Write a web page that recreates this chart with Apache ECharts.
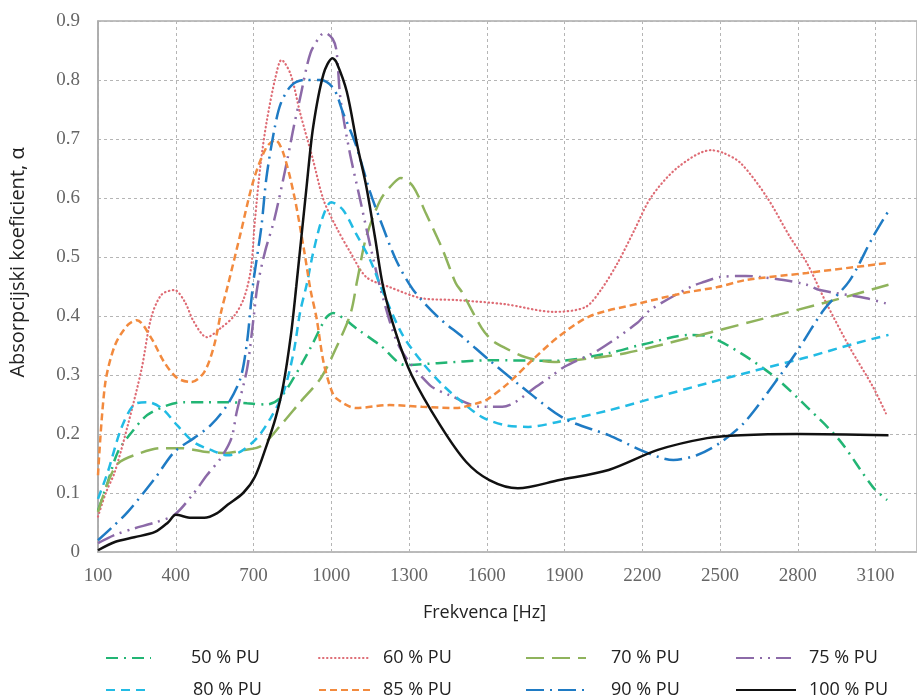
<!DOCTYPE html>
<html><head><meta charset="utf-8">
<script src="https://cdn.jsdelivr.net/npm/echarts@6/dist/echarts.min.js"></script>
<style>html,body{margin:0;padding:0;background:#fff}#c{width:917px;height:700px}</style>
</head><body><div id="c"></div>
<script>
const seriesNames = ['50 % PU','60 % PU','70 % PU','75 % PU','80 % PU','85 % PU','90 % PU','100 % PU'];
const xTicks = [100,400,700,1000,1300,1600,1900,2200,2500,2800,3100];
const yTicks = [0,0.1,0.2,0.3,0.4,0.5,0.6,0.7,0.8,0.9];

const pu50 = [[100,0.07],[138,0.119],[177,0.17],[230,0.203],[290,0.232],[370,0.249],[430,0.254],[510,0.254],[600,0.254],[675,0.252],[750,0.25],[800,0.26],[855,0.295],[920,0.346],[980,0.397],[1008,0.405],[1050,0.395],[1100,0.378],[1190,0.35],[1285,0.317],[1410,0.32],[1610,0.325],[1870,0.324],[2070,0.337],[2195,0.351],[2390,0.368],[2460,0.365],[2580,0.337],[2710,0.297],[2835,0.246],[2960,0.19],[3090,0.11],[3145,0.088]];
const pu60 = [[100,0.06],[130,0.1],[165,0.136],[215,0.215],[268,0.31],[305,0.397],[345,0.436],[395,0.444],[435,0.424],[470,0.39],[520,0.364],[575,0.38],[625,0.40],[663,0.43],[690,0.48],[705,0.56],[728,0.66],[751,0.73],[785,0.805],[808,0.834],[843,0.81],[880,0.744],[930,0.664],[970,0.597],[1020,0.55],[1075,0.507],[1135,0.466],[1225,0.449],[1350,0.43],[1480,0.427],[1670,0.42],[1860,0.407],[1980,0.415],[2040,0.444],[2105,0.49],[2170,0.546],[2235,0.602],[2340,0.653],[2465,0.681],[2515,0.676],[2580,0.659],[2680,0.602],[2770,0.534],[2835,0.49],[2910,0.422],[3000,0.347],[3090,0.28],[3140,0.235]];
const pu70 = [[100,0.068],[140,0.12],[177,0.15],[240,0.164],[345,0.176],[420,0.176],[510,0.17],[600,0.168],[665,0.173],[730,0.18],[805,0.215],[880,0.254],[960,0.295],[1020,0.347],[1075,0.405],[1100,0.46],[1135,0.534],[1190,0.597],[1240,0.625],[1268,0.634],[1315,0.62],[1365,0.574],[1430,0.512],[1480,0.456],[1505,0.44],[1580,0.38],[1620,0.359],[1670,0.346],[1750,0.33],[1860,0.322],[1940,0.325],[2135,0.337],[2390,0.364],[2645,0.393],[2900,0.422],[3150,0.453]];
const pu75 = [[100,0.015],[165,0.029],[240,0.04],[320,0.05],[395,0.063],[470,0.10],[520,0.13],[575,0.16],[615,0.193],[635,0.237],[675,0.31],[700,0.396],[715,0.45],[745,0.51],[780,0.563],[830,0.664],[855,0.72],[880,0.77],[920,0.846],[960,0.876],[975,0.88],[1005,0.87],[1020,0.85],[1035,0.77],[1070,0.68],[1110,0.6],[1150,0.52],[1200,0.43],[1265,0.346],[1380,0.283],[1455,0.266],[1580,0.246],[1660,0.246],[1710,0.254],[1790,0.28],[1840,0.295],[1900,0.314],[2030,0.342],[2180,0.388],[2230,0.41],[2390,0.45],[2440,0.458],[2500,0.466],[2600,0.468],[2655,0.466],[2745,0.461],[2835,0.453],[2885,0.444],[3065,0.43],[3150,0.42]];
const pu80 = [[100,0.09],[138,0.136],[190,0.21],[240,0.25],[290,0.254],[345,0.244],[405,0.215],[470,0.186],[535,0.173],[600,0.164],[650,0.17],[713,0.193],[766,0.227],[816,0.271],[855,0.339],[880,0.407],[905,0.453],[930,0.507],[965,0.565],[1000,0.593],[1045,0.58],[1095,0.54],[1150,0.495],[1200,0.44],[1275,0.368],[1350,0.322],[1430,0.283],[1505,0.254],[1580,0.229],[1670,0.215],[1760,0.212],[1870,0.22],[2070,0.24],[2260,0.263],[2450,0.286],[2640,0.308],[2835,0.33],[3025,0.354],[3150,0.368]];
const pu85 = [[100,0.13],[127,0.283],[165,0.35],[215,0.385],[250,0.393],[305,0.363],[355,0.322],[405,0.295],[460,0.288],[510,0.305],[548,0.35],[575,0.407],[600,0.45],[650,0.54],[700,0.63],[750,0.686],[785,0.698],[815,0.676],[855,0.608],[893,0.517],[920,0.444],[943,0.397],[970,0.322],[1000,0.275],[1020,0.26],[1095,0.244],[1225,0.249],[1350,0.246],[1480,0.244],[1570,0.253],[1600,0.258],[1680,0.285],[1775,0.325],[1877,0.365],[2000,0.40],[2195,0.422],[2360,0.439],[2490,0.449],[2600,0.461],[2835,0.473],[3150,0.49]];
const pu90 = [[100,0.02],[150,0.04],[215,0.068],[320,0.125],[395,0.17],[470,0.193],[535,0.215],[600,0.25],[650,0.295],[675,0.356],[690,0.42],[700,0.46],[730,0.55],[750,0.635],[780,0.715],[805,0.76],[845,0.79],[895,0.80],[960,0.80],[1010,0.785],[1045,0.745],[1095,0.69],[1150,0.61],[1200,0.55],[1250,0.495],[1315,0.445],[1415,0.397],[1505,0.365],[1610,0.325],[1735,0.28],[1900,0.226],[2070,0.198],[2220,0.168],[2320,0.156],[2410,0.164],[2500,0.185],[2595,0.22],[2710,0.286],[2800,0.342],[2900,0.41],[3000,0.46],[3090,0.534],[3150,0.578]];
const pu100 = [[100,0.003],[165,0.017],[240,0.025],[320,0.034],[370,0.05],[400,0.063],[460,0.058],[510,0.058],[560,0.066],[600,0.08],[660,0.10],[705,0.127],[750,0.18],[785,0.227],[815,0.283],[845,0.37],[865,0.45],[905,0.62],[930,0.72],[970,0.81],[1005,0.837],[1020,0.83],[1060,0.78],[1100,0.69],[1135,0.62],[1170,0.53],[1200,0.45],[1250,0.37],[1310,0.30],[1420,0.215],[1520,0.153],[1610,0.122],[1720,0.108],[1880,0.122],[2070,0.139],[2260,0.173],[2450,0.193],[2580,0.198],[2800,0.2],[3150,0.198]];

const seriesData = [pu50,pu60,pu70,pu75,pu80,pu85,pu90,pu100];
const colors = ['#22b574','#de6b74','#8fb35c','#8c6aa8','#22bbe4','#f28a3e','#1f7bc4','#111111'];
const dashes = [[12,6,2,6],[0.5,3.5],[18,8],[18,6,2,6,2,6],[9,6],[7,4],[18,6,2,6],'solid'];
const widths = [2.5,2.2,2.5,2.5,2.5,2.5,2.5,2.5];

// legend layout (positions only)
const legPos = [
  {left:105, top:649, w:45, pad:35},
  {left:318, top:649, w:50, pad:9},
  {left:525, top:649, w:60, pad:20},
  {left:735, top:649, w:55, pad:13},
  {left:105, top:681, w:45, pad:37},
  {left:318, top:681, w:52, pad:7},
  {left:525, top:681, w:60, pad:20},
  {left:735, top:681, w:60, pad:8}
];

const chart = echarts.init(document.getElementById('c'));
const font = 'Liberation Serif';
chart.setOption({
  animation:false,
  backgroundColor:'#fff',
  grid:{left:93,right:-2,top:21,bottom:148,show:true,borderColor:'#aaa',borderWidth:1.5},
  xAxis:{type:'value',min:100,max:3260,interval:300,
    name:'Frekvenca [Hz]',nameLocation:'middle',nameGap:52,
    nameTextStyle:{fontFamily:'Open Sans',fontSize:18,color:'#222',padding:[0,46,0,0]},
    axisLine:{show:true,lineStyle:{color:'#bbb',width:1.5}},axisTick:{show:false},
    axisLabel:{fontFamily:font,fontSize:19,color:'#666',margin:15,showMaxLabel:false,
      formatter:v=>xTicks.includes(v)?String(v):''},
    splitLine:{show:true,lineStyle:{color:'#b5b5b5',type:[3,3],width:1}}},
  yAxis:{type:'value',min:0,max:0.9,interval:0.1,
    name:'Absorpcijski koeficient, α',nameLocation:'middle',nameGap:70,
    nameTextStyle:{fontFamily:'Open Sans',fontSize:20,color:'#222',padding:[0,0,0,48]},
    axisLine:{show:true,lineStyle:{color:'#aaa',width:1.5}},axisTick:{show:false},
    axisLabel:{fontFamily:font,fontSize:19,color:'#666',margin:18,
      formatter:v=>{const t=yTicks.find(k=>Math.abs(k-v)<1e-6);return t===undefined?'':(t===0?'0':t.toFixed(1));}},
    splitLine:{show:true,lineStyle:{color:'#b5b5b5',type:[3,3],width:1}}},
  legend: seriesNames.map((n,i)=>({
    data:[n],left:legPos[i].left,top:legPos[i].top,padding:0,
    itemWidth:legPos[i].w,itemHeight:14,
    itemStyle:{opacity:0},
    textStyle:{fontFamily:'Open Sans',fontSize:18,color:'#222',padding:[0,0,0,legPos[i].pad]}
  })),
  series: seriesNames.map((n,i)=>({
    name:n,type:'line',data:seriesData[i],showSymbol:false,symbol:'none',
    smooth:0.3,
    lineStyle:{color:colors[i],width:widths[i],type:dashes[i],cap:i===1?'round':'butt'},
    itemStyle:{color:colors[i]},
    z: i===7?5:2
  }))
});
</script></body></html>
